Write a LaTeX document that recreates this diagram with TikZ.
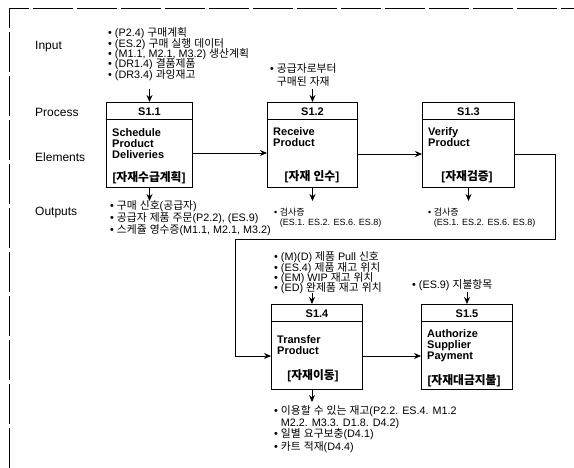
\documentclass[tikz,border=0pt]{standalone}
\usepackage{fontspec}
\setmainfont{Liberation Sans}
\newfontfamily\krfont{Noto Sans CJK KR}
\XeTeXinterchartokenstate=1
\newXeTeXintercharclass\krclass
\newcount\hgc
\hgc="AC00
\loop\ifnum\hgc<"D7A4 \XeTeXcharclass\hgc=\krclass \advance\hgc by 1 \repeat
\XeTeXinterchartoks 0 \krclass = {\begingroup\krfont}
\XeTeXinterchartoks 4095 \krclass = {\begingroup\krfont}
\XeTeXinterchartoks \krclass 0 = {\endgroup}
\XeTeXinterchartoks \krclass 4095 = {\endgroup}
\usetikzlibrary{arrows.meta}
\begin{document}
\begin{tikzpicture}[x=1pt,y=-1pt,
  procbox/.style={draw,line width=1pt,minimum width=#1,minimum height=85pt,anchor=north west,inner sep=0pt},
  lbl/.style={font=\fontsize{12}{14}\selectfont,anchor=west,inner sep=0pt},
  bl/.style={font=\fontsize{10.8}{12}\selectfont,anchor=base west,inner sep=0pt},
  bls/.style={font=\fontsize{9}{10}\selectfont,anchor=base west,inner sep=0pt},
  hd/.style={font=\bfseries\fontsize{11}{12}\selectfont,inner sep=0pt},
  bt/.style={font=\bfseries\fontsize{11}{11.2}\selectfont,align=left,anchor=north west,inner sep=0pt},
  brk/.style={font=\bfseries\fontsize{11.8}{12}\selectfont,inner sep=0pt},
  arr/.style={-{Stealth[length=7pt,width=6pt]},line width=0.8pt},
  hline/.style={line width=1pt}
]
\useasboundingbox (0,0) rectangle (574,468);
% frame
\draw[line width=0.8pt,dash pattern=on 40pt off 4pt] (9,468) -- (9,8) -- (574,8);

% row labels
\node[lbl] (lin) at (35,47) {Input};
\node[lbl] (lpr) at (35,112) {Process};
\node[lbl] (lel) at (35,157) {Elements};
\node[lbl] (lou) at (35,213) {Outputs};

% boxes
\node[procbox=86pt] (s11) at (106,102) {};
\node[procbox=90pt] (s12) at (267,102) {};
\node[procbox=92pt] (s13) at (422,102) {};
\node[procbox=91pt] (s14) at (271,304) {};
\node[procbox=91pt] (s15) at (421,304) {};

\foreach \b in {s11,s12,s13,s14,s15}{
  \draw[hline] ([yshift=-18pt]\b.north west) -- ([yshift=-18pt]\b.north east);
}

% headers
\node[hd] (h11) at ([yshift=-9.5pt]s11.north) {S1.1};
\node[hd] (h12) at ([yshift=-9.5pt]s12.north) {S1.2};
\node[hd] (h13) at ([yshift=-9.5pt]s13.north) {S1.3};
\node[hd] (h14) at ([yshift=-9.5pt]s14.north) {S1.4};
\node[hd] (h15) at ([yshift=-9.5pt]s15.north) {S1.5};

% box bodies
\node[bt] (t11) at (112,128) {Schedule\\Product\\Deliveries};
\node[bt] (t12) at (273,127) {Receive\\Product};
\node[bt] (t13) at (428,127) {Verify\\Product};
\node[bt] (t14) at (277,335) {Transfer\\Product};
\node[bt] (t15) at (427,329) {Authorize\\Supplier\\Payment};

\node[brk] (b11) at (149,178) {[자재수급계획]};
\node[brk] (b12) at (312,177) {[자재 인수]};
\node[brk] (b13) at (467,177) {[자재검증]};
\node[brk] (b14) at (313,376) {[자재이동]};
\node[brk] (b15) at (464,381) {[자재대금지불]};

% inputs S1.1
\node[bl] (i11a) at (108,37) {• (P2.4) 구매계획};
\node[bl] (i11b) at (108,47.3) {• (ES.2) 구매 실행 데이터};
\node[bl] (i11c) at (108,57.6) {• (M1.1, M2.1, M3.2) 생산계획};
\node[bl] (i11d) at (108,67.9) {• (DR1.4) 결품제품};
\node[bl] (i11e) at (108,78.2) {• (DR3.4) 과잉재고};
% input S1.2
\node[bl] (i12a) at (270,73) {• 공급자로부터};
\node[bl] (i12b) at (270,86) {\hphantom{• }구매된 자재};
% inputs S1.4
\node[bl] (i14a) at (274,261) {• (M)(D) 제품 Pull 신호};
\node[bl] (i14b) at (274,271.3) {• (ES.4) 제품 재고 위치};
\node[bl] (i14c) at (274,281.6) {• (EM) WIP 재고 위치};
\node[bl] (i14d) at (274,291.9) {• (ED) 완제품 재고 위치};
% input S1.5
\node[bl] (i15a) at (412,289) {• (ES.9) 지불항목};

% outputs S1.1
\node[bl] (o11a) at (110,210) {• 구매 신호(공급자)};
\node[bl] (o11b) at (110,222) {• 공급자 제품 주문(P2.2), (ES.9)};
\node[bl] (o11c) at (110,234) {• 스케쥴 영수증(M1.1, M2.1, M3.2)};
% outputs S1.2 / S1.3
\node[bls] (o12a) at (274,216) {• 검사증};
\node[bls] (o12b) at (274,226) {\hphantom{• }(ES.1. ES.2. ES.6. ES.8)};
\node[bls] (o13a) at (428,216) {• 검사증};
\node[bls] (o13b) at (428,226) {\hphantom{• }(ES.1. ES.2. ES.6. ES.8)};
% outputs S1.4
\node[bl] (o14a) at (274,414) {• 이용할 수 있는 재고(P2.2. ES.4. M1.2};
\node[bl] (o14b) at (274,426) {\hphantom{• }M2.2. M3.3. D1.8. D4.2)};
\node[bl] (o14c) at (274,438) {• 일별 요구보충(D4.1)};
\node[bl] (o14d) at (274,450) {• 카트 적재(D4.4)};

% helper coordinates
\coordinate (r153) at (0,153);
\coordinate (r154) at (0,154);
\coordinate (r356) at (0,356);
\coordinate (x312) at (312,0);
\coordinate (c1) at (555,239);
\coordinate (c2) at (235,239);

% vertical arrows
\draw[arr] ([yshift=13pt]s11.north) -- (s11.north);
\draw[arr] ([yshift=13pt]s12.north) -- (s12.north);
\draw[arr] ([yshift=11pt]s14.north -| x312) -- (s14.north -| x312);
\draw[arr] ([yshift=12pt]s15.north) -- (s15.north);
\draw[arr] (s11.south) -- ([yshift=-13pt]s11.south);
\draw[arr] (s12.south) -- ([yshift=-13pt]s12.south);
\draw[arr] (s13.south) -- ([yshift=-13pt]s13.south);
\draw[arr] (s14.south -| x312) -- ([yshift=-12pt]s14.south -| x312);

% horizontal connectors
\draw[arr] (s11.east |- r153) -- (s12.west |- r153);
\draw[arr] (s12.east |- r154) -- (s13.west |- r154);
\draw[arr] (s14.east |- r356) -- (s15.west |- r356);
\draw[arr] (s13.east |- r154) -| (c1) -- (c2) |- (s14.west |- r356);
\end{tikzpicture}
\end{document}
